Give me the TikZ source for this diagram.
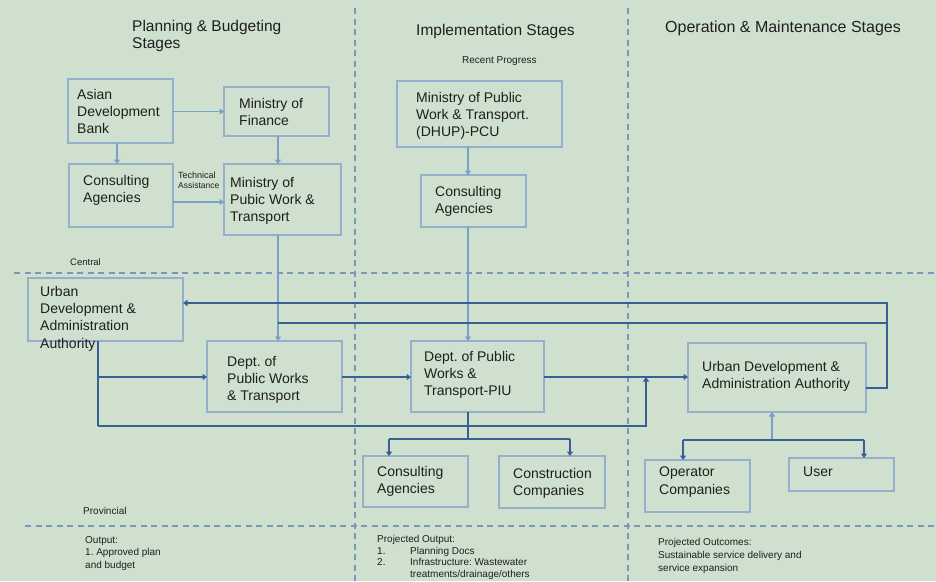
\documentclass[tikz,border=0pt]{standalone}
\usepackage{fontspec}
\setmainfont{Liberation Sans}
\usetikzlibrary{arrows.meta}
\definecolor{bgc}{RGB}{208,224,207}
\definecolor{boxc}{RGB}{148,176,204}
\definecolor{darkc}{RGB}{55,95,145}
\definecolor{lightc}{RGB}{120,160,200}
\definecolor{dashc}{RGB}{122,152,184}
\definecolor{txtc}{RGB}{30,30,30}
\frenchspacing
\newcommand\bx[5]{\node[bxst, minimum width={(#4-#2)*1pt}, minimum height={(#5-#3)*1pt}] (#1) at ({(#2+#4)/2},{(#3+#5)/2}) {};}
\tikzset{
  bxst/.style={draw=boxc, line width=1.7pt, inner sep=0pt, outer sep=0pt},
  txt/.style={anchor=north west, align=left, inner sep=0pt, text=txtc, font=\fontsize{14}{17.3}\selectfont},
  ttl/.style={anchor=north west, align=left, inner sep=0pt, text=txtc, font=\fontsize{15.5}{17.5}\selectfont},
  small/.style={anchor=north west, align=left, inner sep=0pt, text=txtc, font=\fontsize{10}{12.8}\selectfont},
  sepline/.style={draw=dashc, line width=1.6pt, dash pattern=on 6pt off 4.5pt},
  dc/.style={draw=darkc, line width=1.9pt},
  lc/.style={draw=lightc, line width=1.9pt},
  tip/.style={-{Triangle[width=6pt,length=4.5pt]}},
  rtip/.style={{Triangle[width=6pt,length=4.5pt]}-}
}
\begin{document}
\begin{tikzpicture}[x=1pt,y=-1pt]
\fill[bgc] (0,0) rectangle (936,581);
\useasboundingbox (0,0) rectangle (936,581);

% stage separators
\path[sepline] (355,8) -- (355,581);
\path[sepline] (628,8) -- (628,581);
\path[sepline] (14,273) -- (936,273);
\path[sepline] (25,526) -- (936,526);

% titles
\node[ttl] (t1) at (132,20) {Planning \& Budgeting\\Stages};
\node[ttl] (t2) at (416,24) {Implementation Stages};
\node[ttl, font=\fontsize{16}{18}\selectfont] (t3) at (665,21) {Operation \& Maintenance Stages};
\node[small] (rp) at (462,56) {Recent Progress};

% boxes
\bx{adb}{68}{79}{173}{143}
\bx{mof}{224}{87}{329}{136}
\bx{cp}{69}{164}{173}{227}
\bx{mpwt}{224}{164}{341}{235}
\bx{pcu}{397}{81}{562}{147}
\bx{ci}{421}{175}{526}{227}
\bx{udl}{28}{278}{183}{341}
\bx{dpwt}{207}{341}{342}{412}
\bx{piu}{411}{341}{544}{412}
\bx{udr}{688}{343}{866}{412}
\bx{cb}{363}{456}{468}{507}
\bx{cc}{499}{456}{605}{508}
\bx{op}{645}{460}{750}{512}
\bx{us}{789}{458}{894}{491}

% box texts
\node[txt] (adbt) at (77,89) {Asian\\Development\\Bank};
\node[txt] (moft) at (239,98) {Ministry of\\Finance};
\node[txt] (cpt) at (83,175) {Consulting\\Agencies};
\node[txt] (mpwtt) at (230,177) {Ministry of\\Pubic Work \&\\Transport};
\node[txt] (pcut) at (416,92) {Ministry of Public\\Work \& Transport.\\(DHUP)-PCU};
\node[txt] (cit) at (435,186) {Consulting\\Agencies};
\node[txt] (udlt) at (40,286) {Urban\\Development \&\\Administration\\Authority};
\node[txt] (dpwtt) at (227,356) {Dept. of\\Public Works\\\& Transport};
\node[txt] (piut) at (424,351) {Dept. of Public\\Works \&\\Transport-PIU};
\node[txt] (udrt) at (702,361) {Urban Development \&\\Administration Authority};
\node[txt] (cbt) at (377,466) {Consulting\\Agencies};
\node[txt] (cct) at (513,468) {Construction\\Companies};
\node[txt] (opt) at (659,467) {Operator\\Companies};
\node[txt] (ust) at (803,467) {User};

% small labels
\node[anchor=north west, inner sep=0pt, align=left, text=txtc, font=\fontsize{9}{10}\selectfont] (ta) at (178,172) {Technical\\{\fontsize{8.5}{9}\selectfont Assistance}};
\node[small, font=\fontsize{9.5}{11}\selectfont] (cen) at (70,258) {Central};
\node[small] (prov) at (83,507) {Provincial};

% bottom texts
\node[small] (out1) at (85,536) {Output:\\1. Approved plan\\and budget};
\node[small, font=\fontsize{10}{11.6}\selectfont] (out2) at (377,535) {Projected Output:\\\makebox[33pt][l]{1.}Planning Docs\\\makebox[33pt][l]{2.}Infrastructure: Wastewater\\\hspace*{33pt}treatments/drainage/others};
\node[small] (out3) at (658,538) {Projected Outcomes:\\Sustainable service delivery and\\service expansion};

% helper coordinates
\coordinate (xadb) at (117,0);
\coordinate (xa) at (278,0);
\coordinate (xb) at (468,0);
\coordinate (xl) at (98,0);
\coordinate (xm) at (646,0);
\coordinate (xr) at (887,0);
\coordinate (xc) at (389,0);
\coordinate (xd) at (570,0);
\coordinate (xe) at (772,0);
\coordinate (xo) at (683,0);
\coordinate (xu) at (864,0);
\coordinate (yta) at (0,202);
\coordinate (ya) at (0,303);
\coordinate (yc) at (0,323);
\coordinate (yd) at (0,377);
\coordinate (yb) at (0,388);
\coordinate (ye) at (0,426);
\coordinate (yf) at (0,439);
\coordinate (yg) at (0,440);

% upper connectors
\draw[lc, tip] (adb.east |- mof.west) -- (mof.west);
\draw[lc, tip] (adb.south -| xadb) -- (cp.north -| xadb);
\draw[lc, tip] (mof.south -| xa) -- (mpwt.north -| xa);
\draw[lc, tip] (cp.east |- yta) -- (mpwt.west |- yta);
\draw[lc, tip] (mpwt.south -| xa) -- (dpwt.north -| xa);
\draw[lc, tip] (pcu.south -| xb) -- (ci.north -| xb);
\draw[lc, tip] (ci.south -| xb) -- (piu.north -| xb);

% feedback loop
\draw[dc, tip] (udr.east |- yb) -| (xr |- ya) -- (udl.east |- ya);
\draw[dc] (xa |- yc) -- (xr |- yc);

% provincial flows
\draw[dc] (udl.south -| xl) -- (xl |- ye);
\draw[dc, tip] (xl |- yd) -- (dpwt.west |- yd);
\draw[dc, tip] (xl |- ye) -- (xm |- ye) -- (xm |- yd);
\draw[dc, tip] (dpwt.east |- yd) -- (piu.west |- yd);
\draw[dc, tip] (piu.east |- yd) -- (udr.west |- yd);

% PIU to agencies and companies
\draw[dc] (piu.south -| xb) -- (xb |- yf);
\draw[dc] (xc |- yf) -- (xd |- yf);
\draw[dc, tip] (xc |- yf) -- (cb.north -| xc);
\draw[dc, tip] (xd |- yf) -- (cc.north -| xd);

% UDAA to operators and users
\draw[lc, rtip] (udr.south -| xe) -- (xe |- yg);
\draw[dc] (xo |- yg) -- (xu |- yg);
\draw[dc, tip] (xo |- yg) -- (op.north -| xo);
\draw[dc, tip] (xu |- yg) -- (us.north -| xu);
\end{tikzpicture}
\end{document}
